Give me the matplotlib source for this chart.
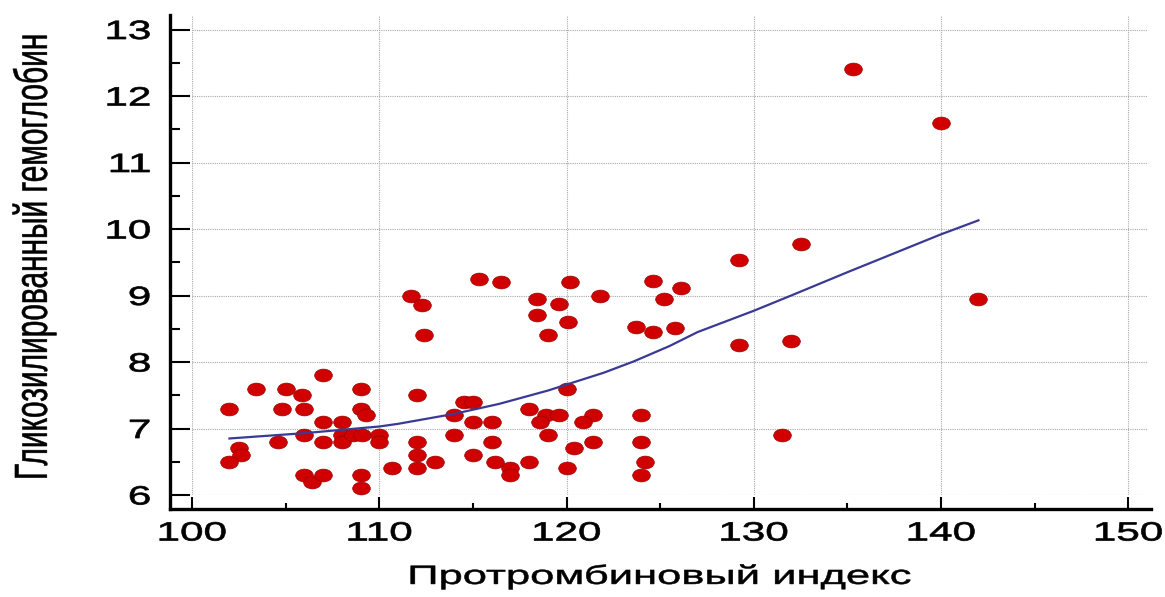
import matplotlib
matplotlib.use("Agg")
import matplotlib.pyplot as plt
from matplotlib.markers import MarkerStyle
from matplotlib.patheffects import AbstractPathEffect
from matplotlib.ticker import MultipleLocator
from matplotlib.transforms import Affine2D

# Prothrombin index vs glycated haemoglobin, one pair per patient
prothrombin = [
    102.0, 103.4, 105.0, 105.9, 107.0, 109.0, 112.0, 104.8, 106.0, 109.0,
    109.3, 107.0, 108.0, 106.0, 104.6, 107.0, 108.0, 108.0, 108.6, 109.1,
    110.0, 110.0, 112.0, 112.0, 112.0, 114.0, 114.0, 113.0, 110.7, 102.5,
    102.6, 102.0, 106.0, 106.4, 107.0, 109.0, 109.0, 111.7, 112.3, 112.4,
    115.3, 116.5, 120.2, 118.4, 119.6, 118.4, 120.1, 119.0, 121.8, 124.6,
    126.1, 125.2, 123.7, 124.6, 125.8, 114.5, 115.0, 115.0, 116.0, 118.0,
    118.9, 119.6, 118.6, 120.0, 121.4, 120.9, 124.0, 116.0, 119.0, 121.4,
    120.4, 124.0, 115.0, 116.2, 118.0, 124.2, 117.0, 117.0, 120.0, 124.0,
    129.2, 129.2, 132.0, 132.5, 131.5, 135.3, 140.0, 142.0,
]
hba1c = [
    7.30, 7.60, 7.60, 7.50, 7.80, 7.60, 7.50, 7.30, 7.30, 7.30,
    7.20, 7.10, 7.10, 6.90, 6.80, 6.80, 6.90, 6.80, 6.90, 6.90,
    6.90, 6.80, 6.80, 6.60, 6.40, 6.90, 7.20, 6.50, 6.40, 6.70,
    6.60, 6.50, 6.30, 6.20, 6.30, 6.30, 6.10, 9.00, 8.85, 8.40,
    9.25, 9.20, 9.20, 8.95, 8.87, 8.70, 8.60, 8.40, 9.00, 9.22,
    9.12, 8.95, 8.52, 8.45, 8.51, 7.40, 7.40, 7.10, 7.10, 7.30,
    7.20, 7.20, 7.10, 7.60, 7.20, 7.10, 7.20, 6.80, 6.90, 6.80,
    6.70, 6.80, 6.60, 6.50, 6.50, 6.50, 6.40, 6.30, 6.40, 6.30,
    9.53, 8.26, 8.32, 9.78, 6.90, 12.40, 11.60, 8.95,
]

# smoothed trend
trend_x = [102.0, 106.0, 110.0, 111.0, 114.0, 116.4, 119.0, 120.0, 122.0,
           123.6, 125.5, 127.0, 130.0, 132.0, 135.0, 140.0, 142.0]
trend_y = [6.85, 6.93, 7.03, 7.07, 7.22, 7.37, 7.57, 7.66, 7.84,
           8.01, 8.24, 8.45, 8.77, 9.00, 9.35, 9.92, 10.13]

x_ticks = [100, 110, 120, 130, 140, 150]
y_ticks = [6, 7, 8, 9, 10, 11, 12, 13]

x_label = "Протромбиновый индекс"
y_label = "Гликозилированный гемоглобин"


class Stretch(AbstractPathEffect):
    """Scale glyph outlines in the text's own frame, with an optional outline."""

    def __init__(self, sx=1.0, sy=1.0, anchor=0.5, stroke=0.0):
        super().__init__()
        self.sx = sx
        self.sy = sy
        self.anchor = anchor
        self.stroke = stroke

    def draw_path(self, renderer, gc, tpath, affine, rgbFace=None):
        ext = tpath.get_extents()
        cx = ext.x0 + self.anchor * ext.width
        pre = Affine2D().translate(-cx, 0).scale(self.sx, self.sy).translate(cx, 0)
        gc0 = renderer.new_gc()
        gc0.copy_properties(gc)
        if self.stroke and rgbFace is not None:
            gc0.set_linewidth(self.stroke)
            gc0.set_foreground(rgbFace)
        renderer.draw_path(gc0, tpath, pre + affine, rgbFace)
        gc0.restore()


plt.rcParams["font.family"] = ["Liberation Sans", "DejaVu Sans"]

W, H = 1165, 597
fig = plt.figure(figsize=(W / 100, H / 100), dpi=100)
ax = fig.add_axes([192 / W, 102 / H, 955 / W, 478.8 / H])
ax.set_xlim(100, 151)
ax.set_ylim(6, 13.2)

ax.grid(True, color="#a8a8a8", linestyle=(0, (1, 1)), linewidth=0.8)
ax.set_axisbelow(True)

dot = MarkerStyle("o", transform=Affine2D().scale(1.38, 1.0))
ax.plot(prothrombin, hba1c, linestyle="none", marker=dot, markersize=9.2,
        markerfacecolor="#d10000", markeredgecolor="#990000",
        markeredgewidth=0.5, zorder=3)
ax.plot(trend_x, trend_y, color="#3a3a96", linewidth=1.6, zorder=4)

# detached L-shaped frame
for side in ("top", "right"):
    ax.spines[side].set_visible(False)
ax.spines["left"].set_position(("outward", 15.8))
ax.spines["bottom"].set_position(("outward", 10.1))
ax.spines["left"].set_bounds(5.79, 13.22)
ax.spines["bottom"].set_bounds(98.8, 151.2)
for side in ("left", "bottom"):
    ax.spines[side].set_linewidth(2.4)
    ax.spines[side].set_capstyle("projecting")

ax.set_xticks(x_ticks)
ax.set_yticks(y_ticks)
ax.xaxis.set_minor_locator(MultipleLocator(5))
ax.yaxis.set_minor_locator(MultipleLocator(0.5))
ax.tick_params(which="both", direction="in", width=1.5, color="black")
ax.tick_params(axis="y", which="major", length=14.4, pad=14, labelsize=19)
ax.tick_params(axis="y", which="minor", length=7.2)
ax.tick_params(axis="x", which="major", length=8.6, pad=9, labelsize=19)
ax.tick_params(axis="x", which="minor", length=4.3)

for lbl in ax.get_xticklabels():
    lbl.set_path_effects([Stretch(sx=1.6, stroke=0.5)])
for lbl in ax.get_yticklabels():
    lbl.set_path_effects([Stretch(sx=1.6, anchor=1.0, stroke=0.5)])

ax.set_xlabel(x_label, fontsize=19, path_effects=[Stretch(sx=1.65, stroke=0.4)])
ax.xaxis.set_label_coords(0.49, -0.145)
ax.set_ylabel(y_label, fontsize=21.5, path_effects=[Stretch(sy=1.55, stroke=0.4)])
ax.yaxis.label.set_verticalalignment("baseline")
ax.yaxis.set_label_coords(-0.152, 0.499)

fig.savefig("out.png", dpi=100)
